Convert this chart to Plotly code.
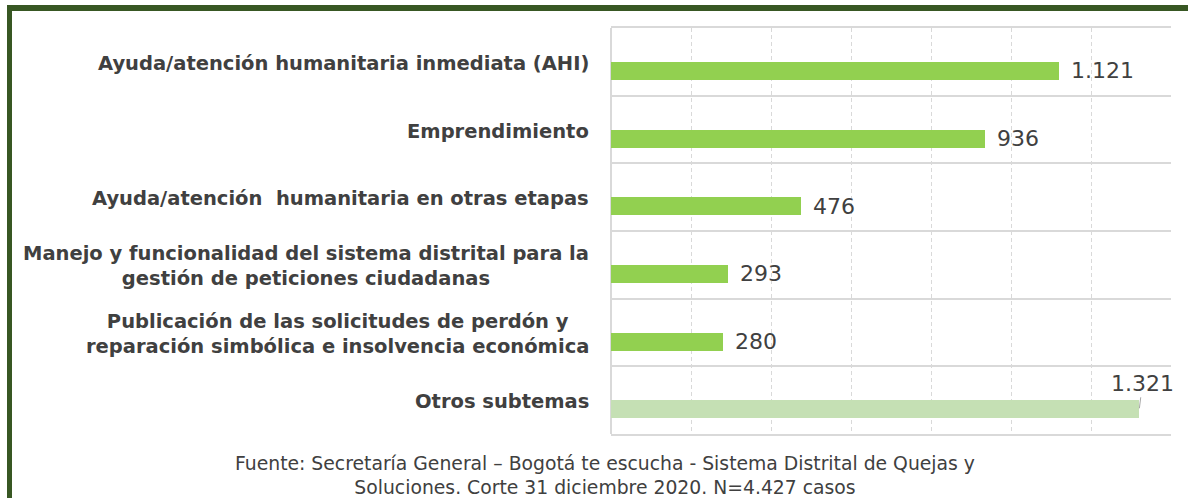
import plotly.graph_objects as go

categories = [
    "Ayuda/atención humanitaria inmediata (AHI)",
    "Emprendimiento",
    "Ayuda/atención  humanitaria en otras etapas",
    "Manejo y funcionalidad del sistema distrital para la<br>gestión de peticiones ciudadanas",
    "Publicación de las solicitudes de perdón y<br>reparación simbólica e insolvencia económica",
    "Otros subtemas",
]
values = [1121, 936, 476, 293, 280, 1321]
value_labels = ["1.121", "936", "476", "293", "280", "1.321"]
bar_colors = ["#92D050", "#92D050", "#92D050", "#92D050", "#92D050", "#C5E0B4"]
x_ticks = [0, 200, 400, 600, 800, 1000, 1200, 1400]

W, H = 1188, 498
L, R, T, B = 611, 1171, 28, 434
pw, ph = R - L, B - T

def px2x(px):
    return (px - L) / pw

def px2y(py):
    return (B - py) / ph

idx = list(range(len(categories)))
BW = 0.27

fig = go.Figure()
fig.add_trace(go.Bar(
    x=values, y=idx, orientation="h", width=BW, offset=0,
    marker=dict(color=bar_colors, line=dict(width=0)),
    hoverinfo="skip", showlegend=False,
))

annotations = []
for i, c in enumerate(categories):
    annotations.append(dict(
        x=0, y=i, xref="x", yref="y", text=c, showarrow=False,
        xanchor="right", yanchor="middle", align="center", xshift=-20, yshift=-1.5,
        font=dict(family="DejaVu Sans", size=19.5, color="#404040", weight="bold"),
    ))
for i, (v, t) in enumerate(zip(values, value_labels)):
    if i < len(values) - 1:
        annotations.append(dict(
            x=v, y=i + BW / 2, xref="x", yref="y", text=t, showarrow=False,
            xanchor="left", yanchor="middle", xshift=10,
            font=dict(family="DejaVu Sans", size=22, color="#404040"),
        ))
    else:
        annotations.append(dict(
            x=v, y=i + 0.12, xref="x", yref="y", text=t, showarrow=True,
            arrowhead=0, arrowwidth=1, arrowcolor="#a6a6a6", ax=3, ay=-25,
            standoff=0,
            font=dict(family="DejaVu Sans", size=22, color="#404040"),
        ))
annotations.append(dict(
    x=px2x(605), y=px2y(475), xref="paper", yref="paper",
    text="Fuente: Secretaría General – Bogotá te escucha - Sistema Distrital de Quejas y<br>Soluciones. Corte 31 diciembre 2020. N=4.427 casos",
    showarrow=False, xanchor="center", yanchor="middle", align="center",
    font=dict(family="DejaVu Sans", size=18.8, color="#404040"),
))

shapes = [
    dict(type="rect", xref="paper", yref="paper", x0=px2x(7), x1=px2x(12),
         y0=px2y(520), y1=px2y(5), fillcolor="#385723", line=dict(width=0), layer="above"),
    dict(type="rect", xref="paper", yref="paper", x0=px2x(7), x1=px2x(1200),
         y0=px2y(11), y1=px2y(5), fillcolor="#385723", line=dict(width=0), layer="above"),
]

fig.update_layout(
    width=W, height=H,
    margin=dict(l=L, r=W - R, t=T, b=H - B, pad=0),
    paper_bgcolor="white", plot_bgcolor="white",
    bargap=0,
    xaxis=dict(
        range=[0, 1400], tickvals=x_ticks, showticklabels=False,
        showgrid=True, gridcolor="#d9d9d9", gridwidth=1, griddash="4px,3px",
        zeroline=True, zerolinecolor="#d9d9d9", zerolinewidth=1.5,
        showline=True, mirror=True, linecolor="#d9d9d9", linewidth=1.5,
        fixedrange=True,
    ),
    yaxis=dict(
        range=[len(categories) - 0.5, -0.5], tickvals=idx, showticklabels=False,
        showgrid=False, zeroline=False, showline=False, fixedrange=True,
        minor=dict(tickvals=[i - 0.5 for i in range(len(categories) + 1)],
                   showgrid=True, gridcolor="#d9d9d9", gridwidth=1.5),
    ),
    annotations=annotations,
    shapes=shapes,
)

fig.write_html(
    "out.html",
    config={"displayModeBar": False},
    post_script="document.body.style.margin='0';document.body.style.overflow='hidden';",
)
